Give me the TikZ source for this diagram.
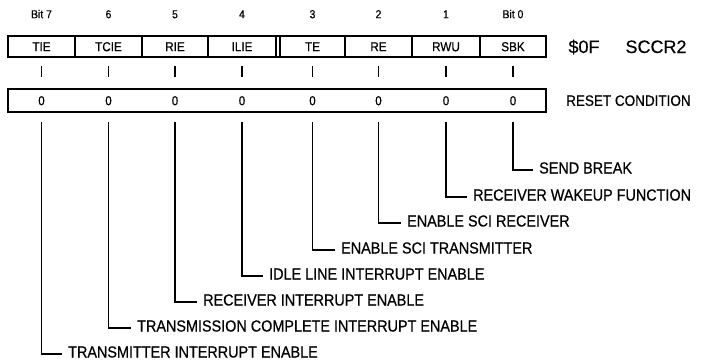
\documentclass[tikz,border=0pt]{standalone}
\usepackage{fontspec}
\setmainfont{Liberation Sans}[FakeStretch=0.9,FakeBold=0.6]
\newfontfamily\regfont{Liberation Sans}[FakeBold=0.3]
\begin{document}
\begin{tikzpicture}[x=1pt,y=-1pt,
  box/.style={draw, line width=1.6pt, inner sep=0pt},
  divider/.style={line width=1.6pt},
  leader/.style={line width=1.3pt},
  tickmark/.style={line width=1.2pt},
  celltxt/.style={font=\fontsize{13}{13}\selectfont, inner sep=0pt, anchor=base},
  bitlbl/.style={font=\fontsize{11.5}{11.5}\selectfont, inner sep=0pt, anchor=base},
  desc/.style={font=\fontsize{16}{16}\selectfont, inner sep=0pt, anchor=base west},
  regname/.style={font=\regfont\fontsize{18}{18}\selectfont, inner sep=0pt, anchor=base}]
\useasboundingbox (0,0) rectangle (702,364);
% register box
\node[box, minimum width=538pt, minimum height=21pt] (reg) at (277,46.5) {};
\foreach \x in {75,142,208,276,280,345,412,480}
  \draw[divider] (\x,36) -- (\x,57);
% reset box
\node[box, line width=1.2pt, minimum width=538pt, minimum height=23pt] (rst) at (277,100.5) {};
% bits
\foreach \i/\cx/\name/\bit in {7/41.5/TIE/Bit 7, 6/108.5/TCIE/6, 5/175/RIE/5, 4/242/ILIE/4,
    3/312.5/TE/3, 2/378.5/RE/2, 1/446/RWU/1, 0/513/SBK/Bit 0} {
  \node[bitlbl] (b\i) at (\cx,18.2) {\bit};
  \node[celltxt] (c\i) at (\cx,51.2) {\name};
  \coordinate (t\i) at (\cx,66);
  \coordinate (u\i) at (\cx,77);
  \draw[tickmark] (t\i) -- (u\i);
  \node[celltxt] (z\i) at (\cx,105.2) {0};
  \coordinate (v\i) at (\cx,122);
}
\node[regname] (addr) at (584,53) {\$0F};
\node[regname] (rname) at (656,53) {SCCR2};
\node[font=\fontsize{15}{15}\selectfont, inner sep=0pt, anchor=base west] (rc) at (566,105.8) {RESET CONDITION};
% descriptions
\node[desc] (l7) at (68,357.5) {TRANSMITTER INTERRUPT ENABLE};
\node[desc] (l6) at (137,331.5) {TRANSMISSION COMPLETE INTERRUPT ENABLE};
\node[desc] (l5) at (203,305.5) {RECEIVER INTERRUPT ENABLE};
\node[desc] (l4) at (269,279.5) {IDLE LINE INTERRUPT ENABLE};
\node[desc] (l3) at (341,253.5) {ENABLE SCI TRANSMITTER};
\node[desc] (l2) at (407,226.5) {ENABLE SCI RECEIVER};
\node[desc] (l1) at (473,200.5) {RECEIVER WAKEUP FUNCTION};
\node[desc] (l0) at (539,173.5) {SEND BREAK};
\foreach \i in {0,...,7}
  \draw[leader] (v\i) |- ([xshift=-6pt,yshift=3.5pt]l\i.base west);
\end{tikzpicture}
\end{document}
